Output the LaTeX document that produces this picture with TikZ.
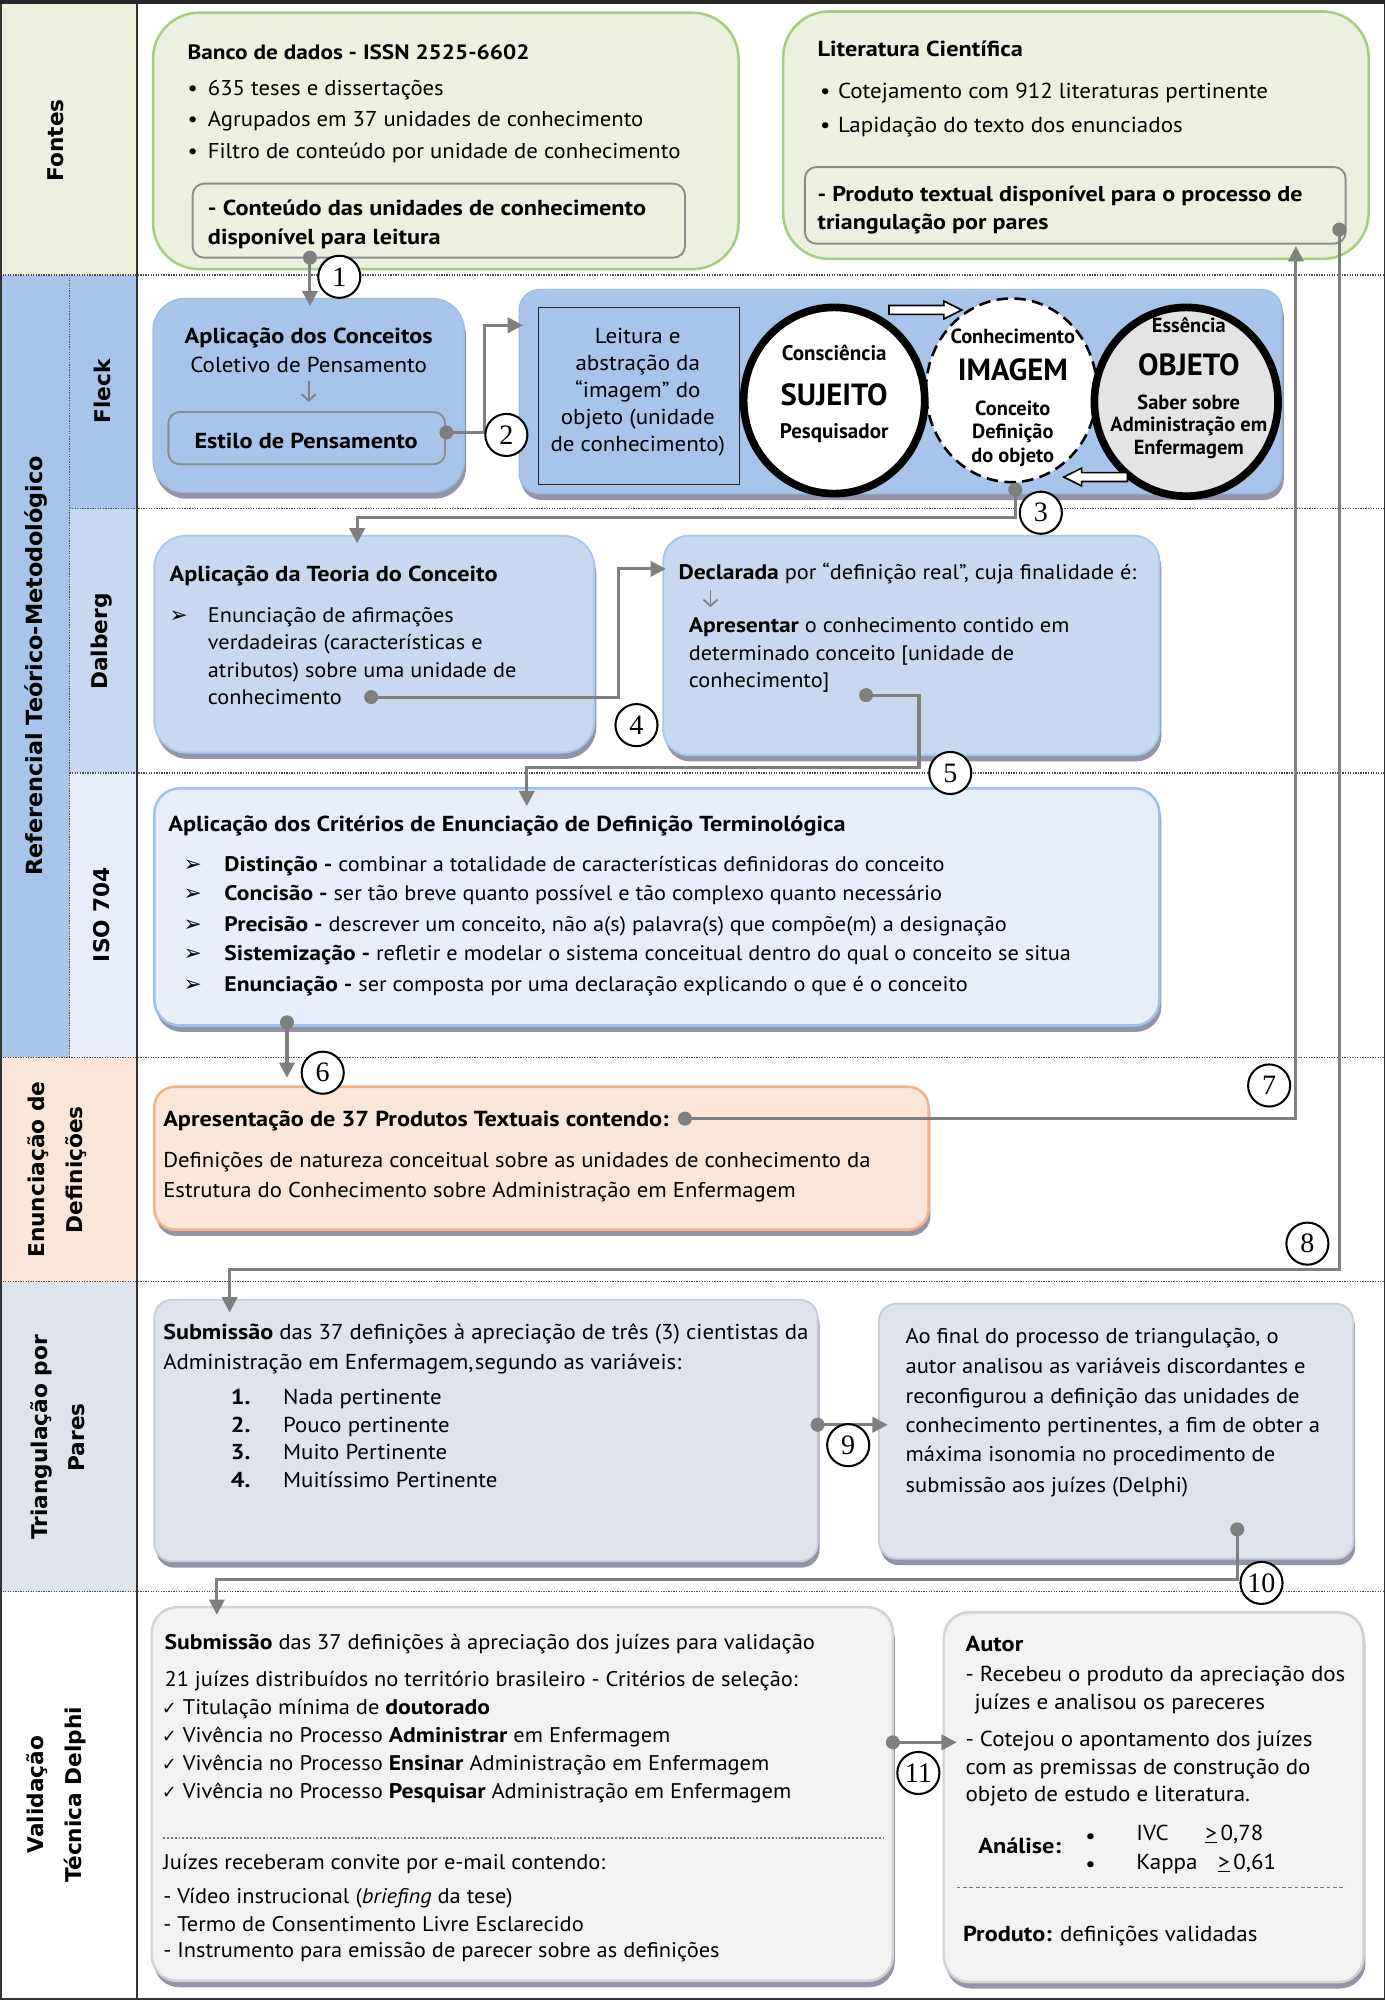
\documentclass[tikz,border=0pt]{standalone}
\usepackage{fontspec}
\setmainfont{PT Sans}[UprightFeatures={FakeStretch=1.06},BoldFeatures={FakeStretch=1.12},ItalicFeatures={FakeStretch=1.06}]
\newfontfamily\ellf{PT Sans}
\newfontfamily\labf{DejaVu Sans}
\newfontfamily\symf{DejaVu Sans}
\newfontfamily\numf{Liberation Serif}
\usetikzlibrary{shapes.geometric,arrows.meta,shadows,calc}
\newcommand\fs[1]{\fontsize{#1}{#1}\selectfont}
\definecolor{cfontes}{HTML}{EBF1DE}
\definecolor{gborder}{HTML}{A6CE7E}
\definecolor{cref}{HTML}{A8C4E8}
\definecolor{cdal}{HTML}{C6D9F1}
\definecolor{cisol}{HTML}{E5EEF9}
\definecolor{cenu}{HTML}{FBE5D6}
\definecolor{ctri}{HTML}{DEE3EC}
\definecolor{cblue}{HTML}{A8C5E9}
\definecolor{cblueb}{HTML}{9BBBE2}
\definecolor{cdalb}{HTML}{A9C6EC}
\definecolor{cisob}{HTML}{A2C1EA}
\definecolor{cpeachb}{HTML}{F3B585}
\definecolor{ctrib}{HTML}{C9CFD9}
\definecolor{cval}{HTML}{F2F2F2}
\definecolor{cvalb}{HTML}{D3D3D3}
\definecolor{cgray}{HTML}{7F7F7F}
\definecolor{cinb}{HTML}{8C8C8C}
\definecolor{cobj}{HTML}{E4E4E4}
\tikzset{
  tx/.style={anchor=base west, inner sep=0pt, outer sep=0pt},
  txc/.style={anchor=base, inner sep=0pt, outer sep=0pt},
  box/.style={anchor=north west, inner sep=0pt, outer sep=0pt},
  shd/.style={drop shadow={shadow xshift=1.5pt, shadow yshift=-5pt, fill=black!80!blue, opacity=0.42}},
  dot/.style={circle, fill=cgray, inner sep=0pt, minimum size=11pt},
  conn/.style={draw=cgray, line width=2.4pt, -{Triangle[length=12pt,width=12pt]}},
  sarr/.style={draw=cgray, line width=1.4pt, -{Straight Barb[length=5pt,width=11pt]}},
  numc/.style={circle, draw=black, line width=1.6pt, fill=white, minimum size=33pt, inner sep=0pt, font=\numf\fs{22}},
  lane/.style={rotate=90, font=\labf\bfseries\fs{17}, align=center, inner sep=0pt},
  sepl/.style={draw=black!70, line width=0.9pt, dash pattern=on 1pt off 1pt},
  frm/.style={draw=black!80, line width=1.3pt},
  hollow/.style={draw=black, line width=1.3pt, fill=white, line join=miter},
  arrb/.style={tx, font=\symf\fs{17}}
}
\begin{document}
\begin{tikzpicture}[x=1pt,y=-1pt]
\useasboundingbox (0,0) rectangle (1086,1568);
% ---------- lane backgrounds ----------
\fill[cfontes] (0,0) rectangle (107.5,215.6);
\fill[cref] (0,215.6) rectangle (54.5,829);
\fill[cref] (54.5,215.6) rectangle (107.5,398.7);
\fill[cdal] (54.5,398.7) rectangle (107.5,606);
\fill[cisol] (54.5,606) rectangle (107.5,829);
\fill[cenu] (0,829) rectangle (107.5,1005);
\fill[ctri] (0,1005) rectangle (107.5,1248);
% separators
\draw[sepl] (0,215.6) -- (1086,215.6);
\draw[sepl] (54.5,398.7) -- (1086,398.7);
\draw[sepl] (54.5,606) -- (1086,606);
\draw[sepl] (0,829) -- (1086,829);
\draw[sepl] (0,1005) -- (1086,1005);
\draw[sepl] (0,1248) -- (1086,1248);
\draw[sepl] (54.5,215.6) -- (54.5,829);
\draw[frm] (107.5,0) -- (107.5,1568);
\draw[frm] (0.65,0.65) rectangle (1085.35,1567.35);
\draw[draw=black!85, line width=3pt] (0,1.5) -- (1086,1.5);
% lane labels
\node[lane] (lfon) at (44,110) {Fontes};
\node[lane, font=\labf\bfseries\fs{17.5}] (lref) at (28,522) {Referencial Teórico-Metodológico};
\node[lane] (lfle) at (80,307) {Fleck};
\node[lane] (ldal) at (80,503) {Dalberg};
\node[lane] (liso) at (80,717) {ISO 704};
\node[lane, font=\labf\bfseries\fontsize{17}{30}\selectfont] (lenu) at (45,917) {Enunciação de\\Definições};
\node[lane, font=\labf\bfseries\fontsize{17}{29}\selectfont] (ltri) at (45,1127) {Triangulação por\\Pares};
\node[lane, font=\labf\bfseries\fontsize{17}{30}\selectfont] (lval) at (44,1407) {Validação\\Técnica Delphi};

% ---------- boxes ----------
\node[box, fill=cfontes, draw=gborder, line width=2pt, rounded corners=36pt, minimum width=459pt, minimum height=201pt] (banco) at (120,10) {};
\node[box, fill=cfontes, draw=cinb, line width=1.5pt, rounded corners=9pt, minimum width=386pt, minimum height=58pt] (bancoin) at (151,144) {};
\node[box, fill=cfontes, draw=gborder, line width=2pt, rounded corners=36pt, minimum width=459pt, minimum height=194pt] (lit) at (614,9) {};
\node[box, fill=cfontes, draw=cinb, line width=1.5pt, rounded corners=9pt, minimum width=424pt, minimum height=60pt] (litin) at (631,131) {};

\node[box, shd, fill=cblue, draw=cblueb, line width=1pt, rounded corners=25pt, minimum width=244pt, minimum height=152pt] (apc) at (120,234) {};
\node[box, fill=cblue, draw=cinb, line width=1.5pt, rounded corners=9pt, minimum width=217pt, minimum height=41pt] (estilo) at (132,323) {};
\node[box, shd, fill=cblue, draw=cblueb, line width=1pt, rounded corners=16pt, minimum width=598pt, minimum height=160pt] (big) at (407,227) {};
\node[box, fill=cblue, draw=black!85, line width=1pt, minimum width=158pt, minimum height=139pt] (leitura) at (422,241) {};

\node[box, shd, fill=cdal, draw=cdalb, line width=1.5pt, rounded corners=25pt, minimum width=345pt, minimum height=170pt] (teo) at (121,420) {};
\node[box, shd, fill=cdal, draw=cdalb, line width=1.5pt, rounded corners=20pt, minimum width=389pt, minimum height=172pt] (decl) at (520,420) {};
\node[box, shd, fill=cisol, draw=cisob, line width=2pt, rounded corners=20pt, minimum width=788pt, minimum height=186pt] (iso) at (121,618) {};
\node[box, shd, fill=cenu, draw=cpeachb, line width=2pt, rounded corners=16pt, minimum width=607pt, minimum height=112pt] (apr) at (121,852) {};
\node[box, shd, fill=ctri, draw=ctrib, line width=1.5pt, rounded corners=14pt, minimum width=520pt, minimum height=205pt] (sub) at (121,1019) {};
\node[box, shd, fill=ctri, draw=ctrib, line width=1.5pt, rounded corners=14pt, minimum width=372pt, minimum height=200pt] (fin) at (689,1022) {};
\node[box, shd, fill=cval, draw=cvalb, line width=2pt, rounded corners=20pt, minimum width=581pt, minimum height=293pt] (val) at (119,1260) {};
\node[box, shd, fill=cval, draw=cvalb, line width=2pt, rounded corners=20pt, minimum width=329pt, minimum height=290pt] (aut) at (740,1264) {};

% ---------- ellipses ----------
\node[ellipse, draw=black, line width=2pt, dash pattern=on 9pt off 5pt, fill=white, minimum width=134pt, minimum height=144pt, inner sep=0pt] (img) at (793,306) {};
\node[ellipse, draw=black, line width=6pt, fill=white, minimum width=142pt, minimum height=146pt, inner sep=0pt] (suj) at (654,314) {};
\node[ellipse, draw=black, line width=6pt, fill=cobj, minimum width=144pt, minimum height=148pt, inner sep=0pt] (obj) at (930,315) {};
% hollow arrows
\draw[hollow] (697,239.5) -- (740,239.5) -- (740,236) -- (754,243) -- (740,250) -- (740,246.5) -- (697,246.5) -- cycle;
\draw[hollow] (884,370.5) -- (848,370.5) -- (848,367) -- (834,374) -- (848,381) -- (848,377.5) -- (884,377.5) -- cycle;

% ---------- texts: Fontes ----------
\begin{scope}[every node/.append style={font=\fs{16.8}}]
\node[tx, font=\bfseries\fs{16.3}] (bt) at (147,46.5) {Banco de dados - ISSN 2525-6602};
\node[tx] (b1) at (147,75) {\makebox[16pt][l]{•}635 teses e dissertações};
\node[tx] (b2) at (147,99.5) {\makebox[16pt][l]{•}Agrupados em 37 unidades de conhecimento};
\node[tx] (b3) at (147,124) {\makebox[16pt][l]{•}Filtro de conteúdo por unidade de conhecimento};
\node[tx, font=\bfseries\fs{17}] (bi1) at (163,169) {- Conteúdo das unidades de conhecimento};
\node[tx, font=\bfseries\fs{17}] (bi2) at (163,192) {disponível para leitura};
\node[tx, font=\bfseries\fs{17}] (lt) at (641,44) {Literatura Científica};
\node[tx, font=\fs{17}] (l1) at (643,77) {\makebox[14pt][l]{•}Cotejamento com 912 literaturas pertinente};
\node[tx, font=\fs{17}] (l2) at (643,104) {\makebox[14pt][l]{•}Lapidação do texto dos enunciados};
\node[tx, font=\bfseries\fs{16.85}] (li1) at (641,158) {- Produto textual disponível para o processo de};
\node[tx, font=\bfseries\fs{16.85}] (li2) at (641,180) {triangulação por pares};
\end{scope}

% ---------- texts: Fleck ----------
\begin{scope}[every node/.append style={font=\fs{17}}]
\node[txc, font=\bfseries\fs{17}] (at1) at (242,269) {Aplicação dos Conceitos};
\node[txc] (at2) at (242,292) {Coletivo de Pensamento};
\node[txc, font=\bfseries\fs{17}] (at4) at (240,352) {Estilo de Pensamento};
\node[txc] (le1) at (500,269) {Leitura e};
\node[txc] (le2) at (500,290.5) {abstração da};
\node[txc] (le3) at (500,312) {“imagem” do};
\node[txc] (le4) at (500,333) {objeto (unidade};
\node[txc] (le5) at (500,354) {de conhecimento)};
\node[txc, font=\ellf\bfseries\fs{16.5}] (s1) at (654,283) {Consciência};
\node[txc, font=\ellf\bfseries\fs{24}] (s2) at (654,318) {SUJEITO};
\node[txc, font=\ellf\bfseries\fs{16.5}] (s3) at (654,344) {Pesquisador};
\node[txc, font=\ellf\bfseries\fs{16}] (i1) at (794,269) {Conhecimento};
\node[txc, font=\ellf\bfseries\fs{24}] (i2) at (794,298) {IMAGEM};
\node[txc, font=\ellf\bfseries\fs{16}] (i3) at (794,325.5) {Conceito};
\node[txc, font=\ellf\bfseries\fs{16}] (i4) at (794,344) {Definição};
\node[txc, font=\ellf\bfseries\fs{16}] (i5) at (794,362.5) {do objeto};
\node[txc, font=\ellf\bfseries\fs{16}] (o1) at (932,261) {Essência};
\node[txc, font=\ellf\bfseries\fs{24}] (o2) at (932,294) {OBJETO};
\node[txc, font=\ellf\bfseries\fs{16}] (o3) at (932,321) {Saber sobre};
\node[txc, font=\ellf\bfseries\fs{16}] (o4) at (932,338) {Administração em};
\node[txc, font=\ellf\bfseries\fs{16}] (o5) at (932,356) {Enfermagem};
\end{scope}
\draw[sarr] ($(at2.base)+(0,7)$) -- ($(estilo.north)+(1.5,-8)$);

% ---------- texts: Dalberg ----------
\begin{scope}[every node/.append style={font=\fs{16.5}}]
\node[tx, font=\bfseries\fs{17}] (t0) at (133,456) {Aplicação da Teoria do Conceito};
\node[arrb] (tb) at (133,488) {➢};
\node[tx] (t1) at (163,488) {Enunciação de afirmações};
\node[tx] (t2) at (163,509.5) {verdadeiras (características e};
\node[tx] (t3) at (163,531) {atributos) sobre uma unidade de};
\node[tx] (t4) at (163,552.5) {conhecimento};
\node[tx] (dc0) at (532,454.5) {\textbf{Declarada} por “definição real”, cuja finalidade é:};
\node[tx] (dc1) at (540,496) {\textbf{Apresentar} o conhecimento contido em};
\node[tx] (dc2) at (540,518) {determinado conceito [unidade de};
\node[tx] (dc3) at (540,539) {conhecimento]};
\end{scope}
\draw[sarr] ($(dc0.base west)+(25,8)$) -- ($(dc1.base west)+(17,-20)$);

% ---------- texts: ISO ----------
\begin{scope}[every node/.append style={font=\fs{16.5}}]
\node[tx, font=\bfseries\fs{17}] (is0) at (132,652) {Aplicação dos Critérios de Enunciação de Definição Terminológica};
\node[arrb] (ib1) at (144,683) {➢};
\node[arrb] (ib2) at (144,706) {➢};
\node[arrb] (ib3) at (144,730) {➢};
\node[arrb] (ib4) at (144,753) {➢};
\node[arrb] (ib5) at (144,777) {➢};
\node[tx] (is1) at (176,683) {\textbf{Distinção -} combinar a totalidade de características definidoras do conceito};
\node[tx] (is2) at (176,706) {\textbf{Concisão -} ser tão breve quanto possível e tão complexo quanto necessário};
\node[tx] (is3) at (176,730) {\textbf{Precisão -} descrever um conceito, não a(s) palavra(s) que compõe(m) a designação};
\node[tx] (is4) at (176,753) {\textbf{Sistemização -} refletir e modelar o sistema conceitual dentro do qual o conceito se situa};
\node[tx] (is5) at (176,777) {\textbf{Enunciação -} ser composta por uma declaração explicando o que é o conceito};
\end{scope}

% ---------- texts: Enunciação ----------
\begin{scope}[every node/.append style={font=\fs{16.8}}]
\node[tx, font=\bfseries\fs{17}] (ap0) at (128,883) {Apresentação de 37 Produtos Textuais contendo:};
\node[tx] (ap1) at (128,915.5) {Definições de natureza conceitual sobre as unidades de conhecimento da};
\node[tx] (ap2) at (128,939) {Estrutura do Conhecimento sobre Administração em Enfermagem};
\end{scope}

% ---------- texts: Triangulação ----------
\begin{scope}[every node/.append style={font=\fs{16.9}}]
\node[tx] (sb0) at (128,1050) {\textbf{Submissão} das 37 definições à apreciação de três (3) cientistas da};
\node[tx] (sb1) at (128,1074) {Administração em Enfermagem,\hspace{1pt}segundo as variáveis:};
\node[tx, font=\bfseries\fs{16.9}] (sn1) at (181,1101) {1.};
\node[tx, font=\bfseries\fs{16.9}] (sn2) at (181,1123) {2.};
\node[tx, font=\bfseries\fs{16.9}] (sn3) at (181,1144.5) {3.};
\node[tx, font=\bfseries\fs{16.9}] (sn4) at (181,1166) {4.};
\node[tx] (sv1) at (222,1101) {Nada pertinente};
\node[tx] (sv2) at (222,1123) {Pouco pertinente};
\node[tx] (sv3) at (222,1144.5) {Muito Pertinente};
\node[tx] (sv4) at (222,1166) {Muitíssimo Pertinente};
\node[tx, font=\fs{16.7}] (f1) at (710,1053.5) {Ao final do processo de triangulação, o};
\node[tx, font=\fs{16.7}] (f2) at (710,1077) {autor analisou as variáveis discordantes e};
\node[tx, font=\fs{16.7}] (f3) at (710,1100) {reconfigurou a definição das unidades de};
\node[tx, font=\fs{16.7}] (f4) at (710,1123) {conhecimento pertinentes, a fim de obter a};
\node[tx, font=\fs{16.7}] (f5) at (710,1146) {máxima isonomia no procedimento de};
\node[tx, font=\fs{16.7}] (f6) at (710,1170) {submissão aos juízes (Delphi)};
\end{scope}

% ---------- texts: Validação ----------
\begin{scope}[every node/.append style={font=\fs{16.6}}]
\node[tx] (v0) at (129,1293) {\textbf{Submissão} das 37 definições à apreciação dos juízes para validação};
\node[tx] (v1) at (129,1322) {21 juízes distribuídos no território brasileiro - Critérios de seleção:};
\node[tx] (v2) at (127,1344) {{\symf\fs{14}✓} Titulação mínima de \textbf{doutorado}};
\node[tx] (v3) at (127,1366) {{\symf\fs{14}✓} Vivência no Processo \textbf{Administrar} em Enfermagem};
\node[tx] (v4) at (127,1388) {{\symf\fs{14}✓} Vivência no Processo \textbf{Ensinar} Administração em Enfermagem};
\node[tx] (v5) at (127,1410) {{\symf\fs{14}✓} Vivência no Processo \textbf{Pesquisar} Administração em Enfermagem};
\node[tx] (v6) at (128,1466) {Juízes receberam convite por e-mail contendo:};
\node[tx] (v7) at (128,1492) {- Vídeo instrucional (\textit{briefing} da tese)};
\node[tx] (v8) at (128,1514) {- Termo de Consentimento Livre Esclarecido};
\node[tx] (v9) at (128,1535) {- Instrumento para emissão de parecer sobre as definições};
\end{scope}
\draw[draw=black!55, line width=1pt, dash pattern=on 1.5pt off 1.5pt] ($(val.west |- 0,1441)+(9,0)$) -- ($(val.east |- 0,1441)+(-7,0)$);

\begin{scope}[every node/.append style={font=\fs{17}}]
\node[tx, font=\bfseries\fs{17}] (a0) at (757,1295) {Autor};
\node[tx] (a1) at (757,1318) {- Recebeu o produto da apreciação dos};
\node[tx] (a2) at (764,1340) {juízes e analisou os pareceres};
\node[tx] (a3) at (757,1369) {- Cotejou o apontamento dos juízes};
\node[tx] (a4) at (757,1391) {com as premissas de construção do};
\node[tx] (a5) at (757,1412) {objeto de estudo e literatura.};
\node[tx, font=\bfseries\fs{17}] (a6) at (767,1453) {Análise:};
\node[txc] (ab1) at (855,1445) {•};
\node[txc] (ab2) at (855,1467) {•};
\node[tx] (a7) at (891,1443) {IVC};
\node[tx] (a8) at (945,1443) {\underline{>}\,0,78};
\node[tx] (a9) at (891,1466) {Kappa};
\node[tx] (a10) at (955,1466) {\underline{>}\,0,61};
\node[tx] (a11) at (755,1522) {\textbf{Produto:} definições validadas};
\end{scope}
\draw[draw=black!55, line width=1pt, dash pattern=on 3pt off 2pt] ($(aut.west |- 0,1480)+(10,0)$) -- ($(aut.east |- 0,1480)+(-14,0)$);

% ---------- connectors ----------
\node[dot] (d1) at (243,202) {};
\node[dot] (d2) at (350,339) {};
\node[dot] (d3) at (796,384) {};
\node[dot] (d4) at (291,546.5) {};
\node[dot] (d5) at (679,545) {};
\node[dot] (d6) at (225,801.5) {};
\node[dot] (d7) at (537,877) {};
\node[dot] (d8) at (1050,180) {};
\node[dot] (d9) at (641,1117) {};
\node[dot] (d10) at (970,1199) {};
\node[dot] (d11) at (700,1366) {};

\draw[conn] (d1.center) -- ($(d1 |- apc.north)+(0,6)$);
\draw[conn] (d2.center) -- ++(30,0) |- ($(big.north west)+(3,28)$);
\draw[conn] (d3.center) -- ++(0,22) -| ($(teo.north west)+(159,6)$);
\draw[conn] (d4.center) -- ++(194,0) |- ($(decl.north west)+(2,26)$);
\draw[conn] (d5.center) -| ($(d5)+(41.5,57)$) -| ($(iso.north west)+(292,14)$);
\draw[conn] (d6.center) -- ($(d6 |- apr.north)+(0,-7)$);
\draw[conn] (d7.center) -| ($(litin.south west)+(385,2)$);
\draw[conn] (d8.center) -- ++(0,815) -| ($(sub.north west)+(59,10)$);
\draw[conn] (d9.center) -- ($(fin.west |- d9)+(7,0)$);
\draw[conn] (d10.center) -- ++(0,39) -| ($(val.north west)+(51,6)$);
\draw[conn] (d11.center) -- ($(aut.west |- d11)+(10,0)$);

\node[numc] (n1) at (266,217) {1};
\node[numc] (n2) at (397,341) {2};
\node[numc] (n3) at (816,402) {3};
\node[numc] (n4) at (499,568.5) {4};
\node[numc] (n5) at (745,606) {5};
\node[numc] (n6) at (253,841) {6};
\node[numc] (n7) at (995,851) {7};
\node[numc] (n8) at (1025,975) {8};
\node[numc] (n9) at (665,1133) {9};
\node[numc] (n10) at (989,1241) {10};
\node[numc] (n11) at (720,1390) {11};
\end{tikzpicture}
\end{document}
